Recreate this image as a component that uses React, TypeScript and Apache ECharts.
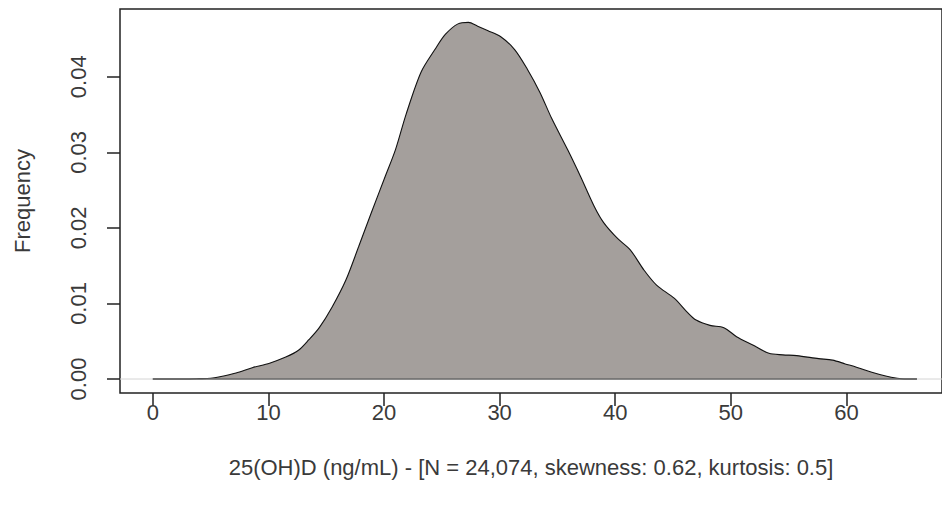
import React, { useEffect, useRef } from "react";
import * as echarts from "echarts";

const densityX = [
  0, 2, 4, 5, 5.8, 7.2, 8.6, 10.1, 11.5, 12.6, 13.5, 14.4, 15.5, 16.7, 17.8, 18.9,
  20.1, 21.0, 21.9, 23.2, 24.4, 25.3, 26.4, 27.3, 28.1, 29.0, 30.1, 31.3, 32.4,
  33.5, 34.5, 35.9, 37.0, 38.2, 39.0, 40.2, 41.3, 42.5, 43.6, 45.1, 46.2, 47.0,
  48.2, 49.4, 50.5, 51.9, 53.3, 54.5, 55.7, 57.6, 58.8, 59.9, 61.0, 62.2, 63.4,
  64.4, 65.0, 66.1,
];
const densityY = [
  0, 0, 0.00005, 0.0001, 0.0003, 0.0008, 0.0015, 0.0021, 0.0029, 0.0038, 0.0052,
  0.0068, 0.0095, 0.0131, 0.0175, 0.022, 0.0268, 0.0304, 0.035, 0.0406, 0.0436,
  0.0456, 0.047, 0.0472, 0.0467, 0.0461, 0.0453, 0.0436, 0.041, 0.0379, 0.0345,
  0.0303, 0.0268, 0.0228, 0.0207, 0.0186, 0.0171, 0.0144, 0.0124, 0.0107, 0.0089,
  0.0078, 0.0071, 0.0068, 0.0056, 0.0045, 0.0034, 0.0032, 0.0031, 0.0027, 0.0025,
  0.002, 0.0015, 0.0009, 0.0004, 0.0001, 0, 0,
];
const xTicks = [0, 10, 20, 30, 40, 50, 60];
const yTicks = [0, 0.01, 0.02, 0.03, 0.04];
const xTitle = "25(OH)D (ng/mL) - [N = 24,074, skewness: 0.62, kurtosis: 0.5]";
const yTitle = "Frequency";

const FONT = "'Liberation Sans', Arial, sans-serif";
const TEXT = "#3a3a3a";
const FS = 22;

export default function App() {
  const ref = useRef<HTMLDivElement>(null);
  useEffect(() => {
    const chart = echarts.init(ref.current!, null, { renderer: "svg" });
    const xMin = -2.84;
    const xMax = 68.27;
    const curve = densityX.map((x, i) => [x, densityY[i]]);
    chart.setOption({
      animation: false,
      backgroundColor: "#ffffff",
      grid: {
        left: 120,
        top: 9,
        right: -5,
        bottom: 116,
        show: true,
        borderColor: "#222",
        borderWidth: 1.5,
        backgroundColor: "transparent",
      },
      xAxis: {
        type: "value",
        min: xMin,
        max: xMax,
        name: xTitle,
        nameLocation: "middle",
        nameGap: 63,
        nameTextStyle: { fontFamily: FONT, fontSize: FS, color: TEXT },
        axisLine: { show: false, onZero: false },
        splitLine: { show: false },
        axisTick: {
          show: true,
          inside: false,
          length: 13,
          customValues: xTicks,
          lineStyle: { color: "#222", width: 1.5 },
        },
        axisLabel: {
          customValues: xTicks,
          margin: 8,
          fontFamily: FONT,
          fontSize: FS,
          color: TEXT,
          formatter: (v: number) => String(v),
        },
      },
      yAxis: {
        type: "value",
        min: -0.00185,
        max: 0.04897,
        name: yTitle,
        nameLocation: "middle",
        nameRotate: 90,
        nameGap: 87,
        nameTextStyle: { fontFamily: FONT, fontSize: FS, color: TEXT },
        axisLine: { show: false, onZero: false },
        splitLine: { show: false },
        axisTick: {
          show: true,
          inside: false,
          length: 13,
          customValues: yTicks,
          lineStyle: { color: "#222", width: 1.5 },
        },
        axisLabel: {
          customValues: yTicks,
          rotate: 90,
          margin: 31,
          fontFamily: FONT,
          fontSize: FS,
          color: TEXT,
          formatter: (v: number) => v.toFixed(2),
        },
      },
      series: [
        {
          type: "line",
          data: [
            [xMin, 0],
            [xMax, 0],
          ],
          symbol: "none",
          silent: true,
          lineStyle: { color: "#d4d4d4", width: 1 },
          z: 1,
        },
        {
          type: "line",
          data: curve,
          symbol: "none",
          smooth: 0.3,
          lineStyle: { color: "#111", width: 1.1 },
          areaStyle: { color: "#a49f9c", opacity: 1, origin: 0 },
          z: 2,
        },
        {
          type: "line",
          data: [
            [0, 0],
            [66.1, 0],
          ],
          symbol: "none",
          silent: true,
          lineStyle: { color: "#6a6a6a", width: 1.6 },
          z: 3,
        },
      ],
    });
    return () => chart.dispose();
  }, []);
  return (
    <div
      ref={ref}
      style={{ position: "fixed", left: 0, top: 0, width: 942, height: 509 }}
    />
  );
}
